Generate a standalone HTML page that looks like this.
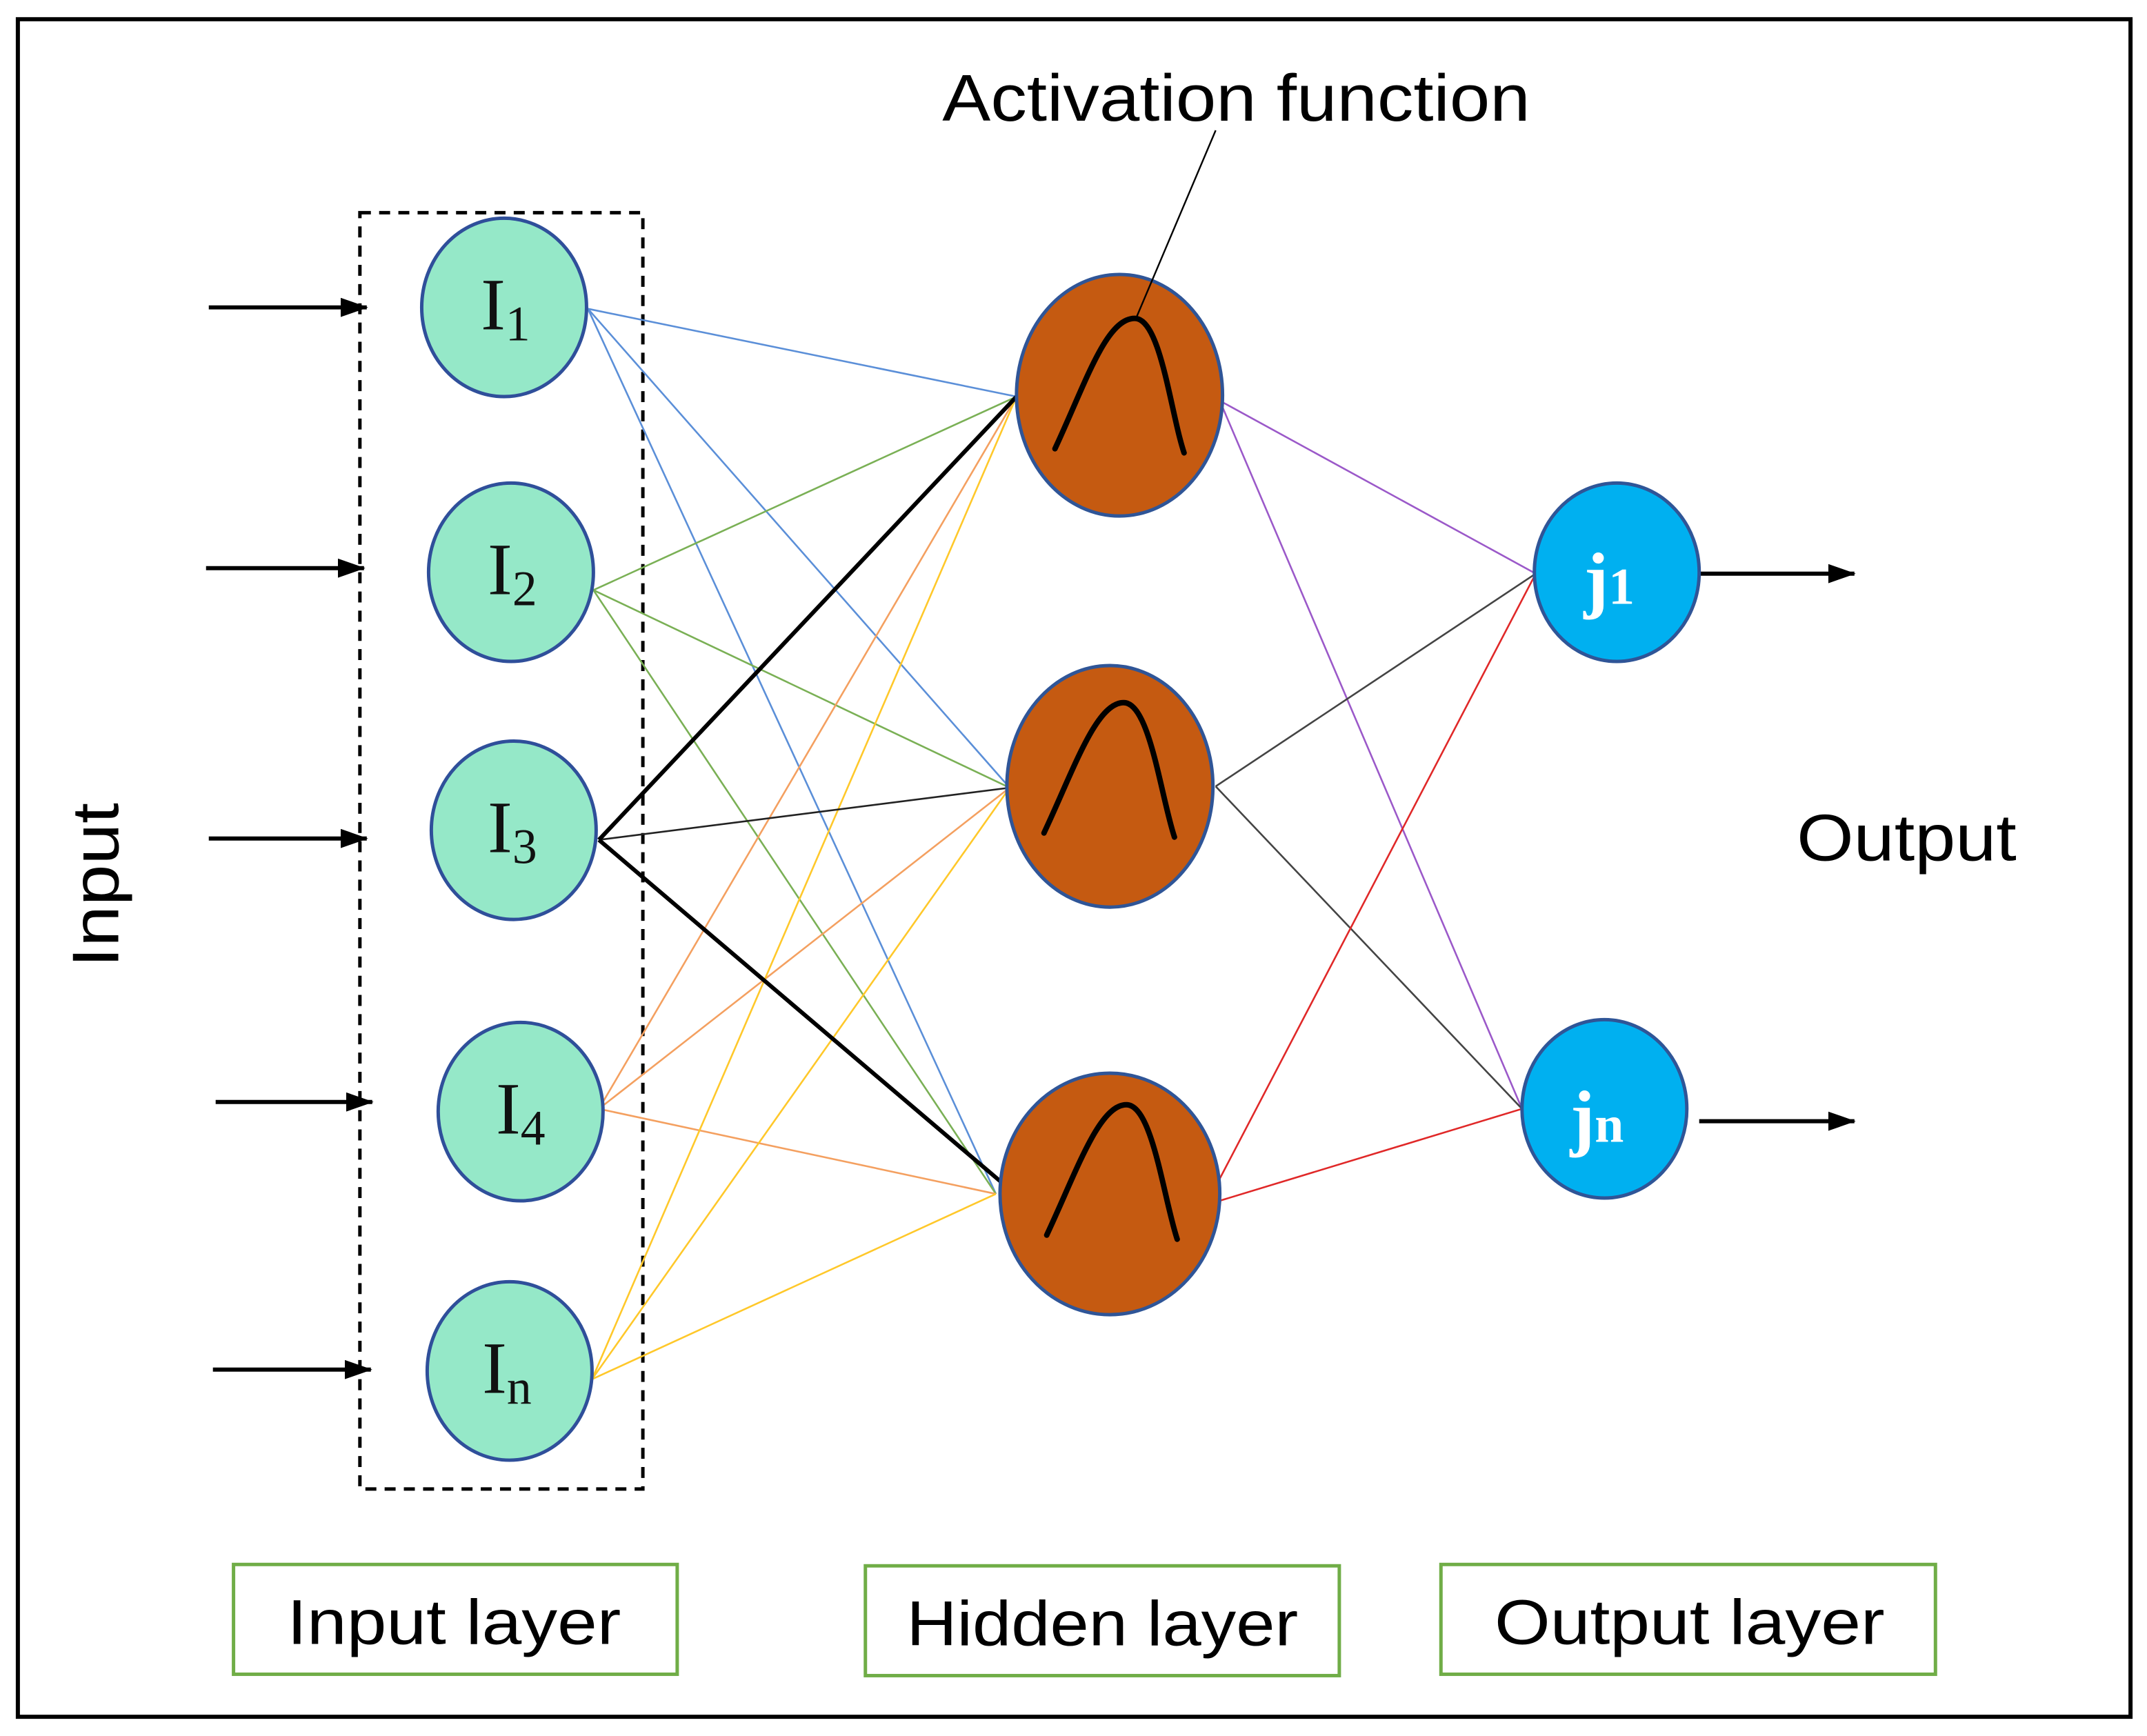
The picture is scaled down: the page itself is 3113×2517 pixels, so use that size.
<!DOCTYPE html>
<html><head><style>html,body{margin:0;padding:0;background:#fff}svg{display:block}</style></head>
<body>
<svg width="3113" height="2517" viewBox="0 0 1563 1265" preserveAspectRatio="none" xmlns="http://www.w3.org/2000/svg" font-family="Liberation Sans, sans-serif">
<defs><marker id="b" markerWidth="20" markerHeight="14" refX="19" refY="7" orient="auto" markerUnits="userSpaceOnUse"><path d="M0,0 L20,7 L0,14 z" fill="#000"/></marker></defs>
<rect x="13" y="14" width="1538" height="1237" fill="#fff" stroke="#000" stroke-width="3"/>
<rect x="262" y="155" width="206" height="930" fill="none" stroke="#000" stroke-width="2.5" stroke-dasharray="8,6"/>
<g stroke="#000" stroke-width="3">
<line x1="152" y1="224" x2="267" y2="224" marker-end="url(#b)"/>
<line x1="150" y1="414" x2="265" y2="414" marker-end="url(#b)"/>
<line x1="152" y1="611" x2="267" y2="611" marker-end="url(#b)"/>
<line x1="157" y1="803" x2="271" y2="803" marker-end="url(#b)"/>
<line x1="155" y1="998" x2="270" y2="998" marker-end="url(#b)"/>
<line x1="1237" y1="418" x2="1350" y2="418" marker-end="url(#b)"/>
<line x1="1237" y1="817" x2="1350" y2="817" marker-end="url(#b)"/>
</g>
<g stroke-width="1.3" fill="none">
<g stroke="#5b8fd8"><line x1="428" y1="225" x2="740" y2="289"/><line x1="428" y1="225" x2="735" y2="574"/><line x1="428" y1="225" x2="725" y2="870"/></g>
<g stroke="#7ab055"><line x1="432" y1="430" x2="740" y2="289"/><line x1="432" y1="430" x2="735" y2="574"/><line x1="432" y1="430" x2="725" y2="870"/></g>
<g stroke="#f4a060"><line x1="436" y1="808" x2="740" y2="289"/><line x1="436" y1="808" x2="735" y2="574"/><line x1="436" y1="808" x2="725" y2="870"/></g>
<g stroke="#ffc82a"><line x1="431" y1="1005" x2="740" y2="289"/><line x1="431" y1="1005" x2="735" y2="574"/><line x1="431" y1="1005" x2="725" y2="870"/></g>
<line x1="436" y1="612" x2="735" y2="574" stroke="#222"/>
<g stroke="#9b59c9"><line x1="888" y1="292" x2="1118" y2="418"/><line x1="888" y1="292" x2="1108" y2="808"/></g>
<g stroke="#444"><line x1="885" y1="573" x2="1118" y2="418"/><line x1="885" y1="573" x2="1108" y2="808"/></g>
<g stroke="#e02828"><line x1="878" y1="878" x2="1118" y2="418"/><line x1="878" y1="878" x2="1108" y2="808"/></g>
</g>
<g stroke="#000" stroke-width="3"><line x1="436" y1="612" x2="740" y2="289"/><line x1="436" y1="612" x2="732" y2="864"/></g>
<g fill="#95e8c8" stroke="#2f4f9a" stroke-width="2.5">
<ellipse cx="367" cy="224" rx="60" ry="65"/><ellipse cx="372" cy="417" rx="60" ry="65"/><ellipse cx="374" cy="605" rx="60" ry="65"/><ellipse cx="379" cy="810" rx="60" ry="65"/><ellipse cx="371" cy="999" rx="60" ry="65"/>
</g>
<g fill="#c55a11" stroke="#2f5597" stroke-width="2.5">
<ellipse cx="815" cy="288" rx="75" ry="88"/><ellipse cx="808" cy="573" rx="75" ry="88"/><ellipse cx="808" cy="870" rx="80" ry="88"/>
</g>
<g fill="none" stroke="#000" stroke-width="4" stroke-linecap="round">
<path d="M768,327 C790,280 805,232 826,232 C845,232 852,300 862,330"/>
<path d="M760,607 C782,560 798,512 818,512 C837,512 845,580 855,610"/>
<path d="M762,900 C784,853 800,805 820,805 C839,805 847,873 857,903"/>
</g>
<line x1="885" y1="95" x2="827" y2="232" stroke="#000" stroke-width="1.2"/>
<g fill="#00b0f0" stroke="#2f5597" stroke-width="2.5"><ellipse cx="1177" cy="417" rx="60" ry="65"/><ellipse cx="1168" cy="808" rx="60" ry="65"/></g>
<g font-family="Liberation Serif, serif" font-size="54" fill="#111">
<text x="350" y="240">I<tspan font-size="36" dy="8">1</tspan></text>
<text x="355" y="433">I<tspan font-size="36" dy="8">2</tspan></text>
<text x="355" y="621">I<tspan font-size="36" dy="8">3</tspan></text>
<text x="361" y="826">I<tspan font-size="36" dy="8">4</tspan></text>
<text x="351" y="1015">I<tspan font-size="36" dy="8">n</tspan></text>
</g>
<g font-family="Liberation Serif, serif" font-size="54" fill="#fff" font-weight="bold">
<text x="1153" y="440">j<tspan font-size="38">1</tspan></text>
<text x="1143" y="832">j<tspan font-size="38">n</tspan></text>
</g>
<g font-size="48" fill="#000">
<text x="686" y="88" textLength="428" lengthAdjust="spacingAndGlyphs">Activation function</text>
<text x="1308" y="627" textLength="160" lengthAdjust="spacingAndGlyphs">Output</text>
<text transform="translate(86,705) rotate(-90)" textLength="120" lengthAdjust="spacingAndGlyphs">Input</text>
</g>
<g fill="#fff" stroke="#70ad47" stroke-width="2.5">
<rect x="170" y="1140" width="323" height="80"/><rect x="630" y="1141" width="345" height="80"/><rect x="1049" y="1140" width="360" height="80"/>
</g>
<g font-size="46" fill="#000">
<text x="209" y="1198" textLength="243" lengthAdjust="spacingAndGlyphs">Input layer</text><text x="660" y="1199" textLength="285" lengthAdjust="spacingAndGlyphs">Hidden layer</text><text x="1088" y="1198" textLength="284" lengthAdjust="spacingAndGlyphs">Output layer</text>
</g>
</svg>
</body></html>
